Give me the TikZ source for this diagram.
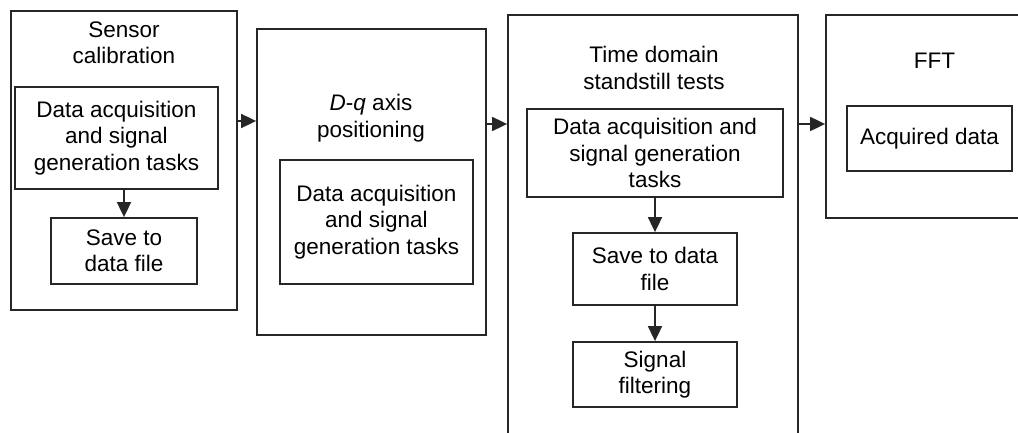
\documentclass[tikz,border=0pt]{standalone}
\usepackage{fontspec}
\setmainfont{Liberation Sans}
\usetikzlibrary{arrows.meta}
\begin{document}
\begin{tikzpicture}[x=1pt,y=-1pt,
  txt/.style={font=\fontsize{22.5}{26.5}\selectfont, align=center, inner sep=0pt},
  outerbox/.style={draw=black!85, line width=1.8pt, inner sep=0pt},
  taskbox/.style={draw=black!85, line width=1.8pt, inner sep=0pt, font=\fontsize{22.5}{26.5}\selectfont, align=center},
  arr/.style={draw=black!85, line width=1.8pt, -{Triangle[length=15pt,width=14pt]}}]
\useasboundingbox (0,0) rectangle (1018,433);
\clip (0,0) rectangle (1018,433);
\fill[white] (0,0) rectangle (1018,433);
% outer boxes
\node[outerbox, minimum width=226pt, minimum height=299pt] (B1) at (124,160.5) {};
\node[outerbox, minimum width=229pt, minimum height=306pt] (B2) at (371.5,182) {};
\node[outerbox, minimum width=290pt, minimum height=445pt] (B3) at (653,237.5) {};
\node[outerbox, minimum width=214pt, minimum height=203pt] (B4) at (933,116.5) {};
% titles
\node[txt] (T1) at (124,43) {Sensor\\calibration};
\node[txt] (T2) at (371,118) {\textit{D}-\textit{q} axis\\positioning};
\node[txt] (T3) at (654,68) {Time domain\\standstill tests};
\node[txt] (T4) at (934.5,61) {FFT};
% inner boxes
\node[taskbox, minimum width=203pt, minimum height=102pt] (I1) at (116.5,138) {Data acquisition\\and signal\\generation tasks};
\node[taskbox, minimum width=146pt, minimum height=66pt] (S1) at (124,251) {Save to\\data file};
\node[taskbox, minimum width=193pt, minimum height=124pt] (I2) at (376.5,222) {Data acquisition\\and signal\\generation tasks};
\node[taskbox, minimum width=256pt, minimum height=88pt] (I3) at (655,153) {Data acquisition and\\signal generation\\tasks};
\node[taskbox, minimum width=164pt, minimum height=72pt] (S3) at (655,269) {Save to data\\file};
\node[taskbox, minimum width=164pt, minimum height=65pt] (F3) at (655,374.5) {Signal\\filtering};
\node[taskbox, minimum width=165pt, minimum height=65pt] (I4) at (929.5,138.5) {Acquired data};
% connectors
\coordinate (a1) at ([yshift=39.5pt]B1.east);
\draw[arr] (a1) -- (a1 -| B2.west);
\coordinate (a2) at ([yshift=58pt]B2.east);
\draw[arr] (a2) -- (a2 -| B3.west);
\coordinate (a3) at (B3.east |- a2);
\draw[arr] (a3) -- (a3 -| B4.west);
\draw[arr] (I1.south -| S1.north) -- (S1.north);
\draw[arr] (I3.south) -- (S3.north);
\draw[arr] (S3.south) -- (F3.north);
\end{tikzpicture}
\end{document}
